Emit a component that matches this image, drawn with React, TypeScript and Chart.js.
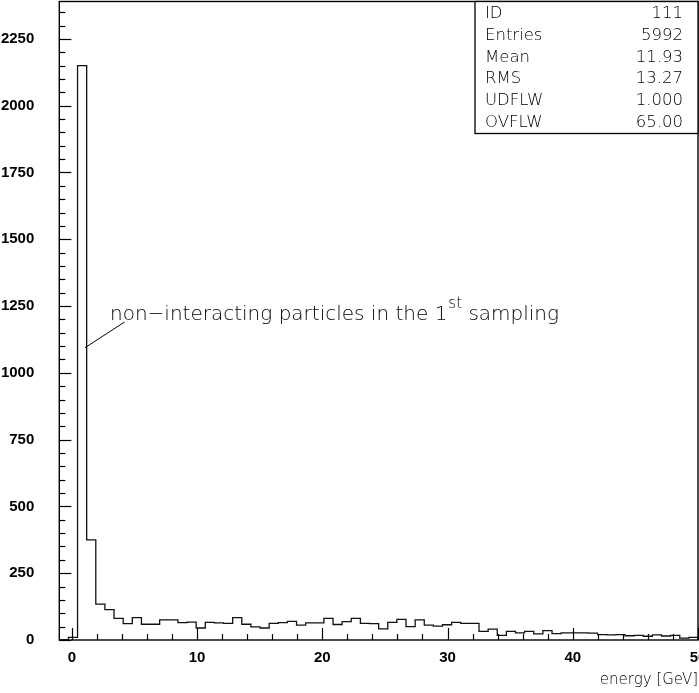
import React, { useEffect, useRef } from 'react';
import { Chart, registerables } from 'chart.js';

Chart.register(...registerables);

// ---- data ----
const X_MIN = -1;
const X_MAX = 50;
const N_BINS = 70;
const Y_MIN = 0;
const Y_MAX = 2390;

const binCounts = [
  0, 10, 2150, 375,
  134, 114, 81, 61, 84, 59, 59, 75, 75, 65, 67, 45,
  66, 64, 62, 84, 59, 49, 45, 62, 65, 70, 56, 64, 64, 81, 58,
  69, 81, 62, 61, 42, 66, 77, 50, 75, 56, 52, 57, 66, 62, 62,
  32, 41, 17, 32, 27, 32, 23, 35, 24, 27, 27, 27, 26, 20, 19, 20, 16, 17, 14, 19, 15, 17, 7, 10,
];

const xTickValues = [0, 10, 20, 30, 40, 50];
const xMinorStep = 2;
const yTickValues = [0, 250, 500, 750, 1000, 1250, 1500, 1750, 2000, 2250];
const yMinorStep = 50;

const xTitle = 'energy [GeV]';

const statLabels = ['ID', 'Entries', 'Mean', 'RMS', 'UDFLW', 'OVFLW'];
const statValues = ['111', '5992', '11.93', '13.27', '1.000', '65.00'];

const annotationMain = 'non\u2212interacting particles in the 1';
const annotationSup = 'st';
const annotationTail = ' sampling';
const annotationAnchor = { x: 3.05, y: 1199 };
const pointerFrom = { x: 1.05, y: 1094 };
const pointerTo = { x: 4.2, y: 1190 };

const THIN = '"DejaVu Sans"';
const BOLD = '"Liberation Sans", Arial, sans-serif';

const binWidth = (X_MAX - X_MIN) / N_BINS;
const histPoints = binCounts
  .map((c, i) => ({ x: X_MIN + i * binWidth, y: c }))
  .concat([{ x: X_MAX, y: 0 }]);

const zeroPad = (s: any) => {
  s.paddingTop = 0;
  s.paddingBottom = 0;
  s.paddingLeft = 0;
  s.paddingRight = 0;
};

const pawPlugin = {
  id: 'paw',
  afterDatasetsDraw(chart: any) {
    const { ctx, chartArea: a, scales } = chart;
    const x = scales.x;
    const y = scales.y;
    ctx.save();
    ctx.strokeStyle = '#000';
    ctx.lineWidth = 1.2;
    // x ticks (inward)
    for (let v = Math.ceil(x.min / xMinorStep) * xMinorStep; v <= x.max + 1e-9; v += xMinorStep) {
      const px = Math.round(x.getPixelForValue(v)) + 0.5;
      const major = Math.abs(v % 10) < 1e-9;
      ctx.beginPath();
      ctx.moveTo(px, a.bottom);
      ctx.lineTo(px, a.bottom - (major ? 12 : 6));
      ctx.stroke();
    }
    // y ticks (inward)
    for (let v = Y_MIN; v <= y.max + 1e-9; v += yMinorStep) {
      const py = Math.round(y.getPixelForValue(v)) + 0.5;
      const major = v % 250 === 0;
      ctx.beginPath();
      ctx.moveTo(a.left, py);
      ctx.lineTo(a.left + (major ? 12 : 6), py);
      ctx.stroke();
    }
    // frame
    ctx.lineWidth = 1.4;
    ctx.strokeRect(a.left, a.top, a.right - a.left, a.bottom - a.top);

    // annotation pointer
    ctx.lineWidth = 1;
    ctx.beginPath();
    ctx.moveTo(x.getPixelForValue(pointerFrom.x), y.getPixelForValue(pointerFrom.y));
    ctx.lineTo(x.getPixelForValue(pointerTo.x), y.getPixelForValue(pointerTo.y));
    ctx.stroke();

    // annotation text
    ctx.fillStyle = '#000';
    ctx.textBaseline = 'alphabetic';
    ctx.textAlign = 'left';
    let tx = x.getPixelForValue(annotationAnchor.x);
    const ty = y.getPixelForValue(annotationAnchor.y);
    ctx.font = `200 20px ${THIN}`;
    ctx.fillText(annotationMain, tx, ty);
    tx += ctx.measureText(annotationMain).width + 1;
    ctx.font = `200 15px ${THIN}`;
    ctx.fillText(annotationSup, tx, ty - 12);
    tx += ctx.measureText(annotationSup).width;
    ctx.font = `200 20px ${THIN}`;
    ctx.fillText(annotationTail, tx, ty);

    // stats box
    const boxRight = a.right;
    const boxLeft = 475;
    const boxTop = a.top;
    const rowH = 21.7;
    const firstRow = 14;
    const boxBottom = firstRow + rowH * (statLabels.length - 1) + 11;
    ctx.fillStyle = '#fff';
    ctx.fillRect(boxLeft, boxTop, boxRight - boxLeft, boxBottom - boxTop);
    ctx.lineWidth = 1.3;
    ctx.strokeRect(boxLeft, boxTop, boxRight - boxLeft, boxBottom - boxTop);
    ctx.fillStyle = '#000';
    ctx.font = `200 16.5px ${THIN}`;
    ctx.textBaseline = 'middle';
    statLabels.forEach((lab, i) => {
      const cy = firstRow + rowH * i;
      ctx.textAlign = 'left';
      ctx.fillText(lab, boxLeft + 10, cy);
      ctx.textAlign = 'right';
      ctx.fillText(statValues[i], boxRight - 15, cy);
    });
    ctx.restore();
  },
};

export default function App() {
  const ref = useRef<HTMLCanvasElement | null>(null);
  useEffect(() => {
    if (!ref.current) return;
    const chart = new Chart(ref.current, {
      type: 'line',
      data: {
        datasets: [
          {
            data: histPoints,
            stepped: 'before',
            borderColor: '#111',
            borderWidth: 1.3,
            pointRadius: 0,
            fill: false,
          },
        ],
      },
      options: {
        animation: false,
        responsive: false,
        devicePixelRatio: 1,
        layout: { autoPadding: false, padding: { left: 0, top: 1.5, right: 1, bottom: 0 } },
        plugins: { legend: { display: false }, title: { display: false }, tooltip: { enabled: false } },
        scales: {
          x: {
            type: 'linear',
            min: X_MIN,
            max: X_MAX,
            grid: { display: false },
            border: { display: false },
            afterBuildTicks: (s: any) => {
              s.ticks = xTickValues.map((v) => ({ value: v }));
            },
            afterFit: (s: any) => {
              s.height = 53;
              zeroPad(s);
            },
            ticks: {
              autoSkip: false,
              maxRotation: 0,
              padding: 1,
              color: '#000',
              font: { family: BOLD, weight: 'bold', size: 15 },
              callback: (v: any) => String(v),
            },
            title: {
              display: true,
              text: xTitle,
              align: 'end',
              color: '#000',
              font: { family: THIN, weight: 200 as any, size: 15 },
              padding: { top: 0, bottom: 4 },
            },
          },
          y: {
            type: 'linear',
            min: Y_MIN,
            max: Y_MAX,
            grid: { display: false },
            border: { display: false },
            afterBuildTicks: (s: any) => {
              s.ticks = yTickValues.map((v) => ({ value: v }));
            },
            afterFit: (s: any) => {
              s.width = 59.3;
              zeroPad(s);
            },
            ticks: {
              autoSkip: false,
              padding: 17,
              color: '#000',
              font: { family: BOLD, weight: 'bold', size: 15 },
              callback: (v: any) => String(v),
            },
          },
        },
      } as any,
      plugins: [pawPlugin],
    });
    return () => chart.destroy();
  }, []);
  return (
    <div style={{ position: 'absolute', left: 0, top: 0, width: 699, height: 693, background: '#fff' }}>
      <canvas ref={ref} width={699} height={693} style={{ display: 'block' }} />
    </div>
  );
}
